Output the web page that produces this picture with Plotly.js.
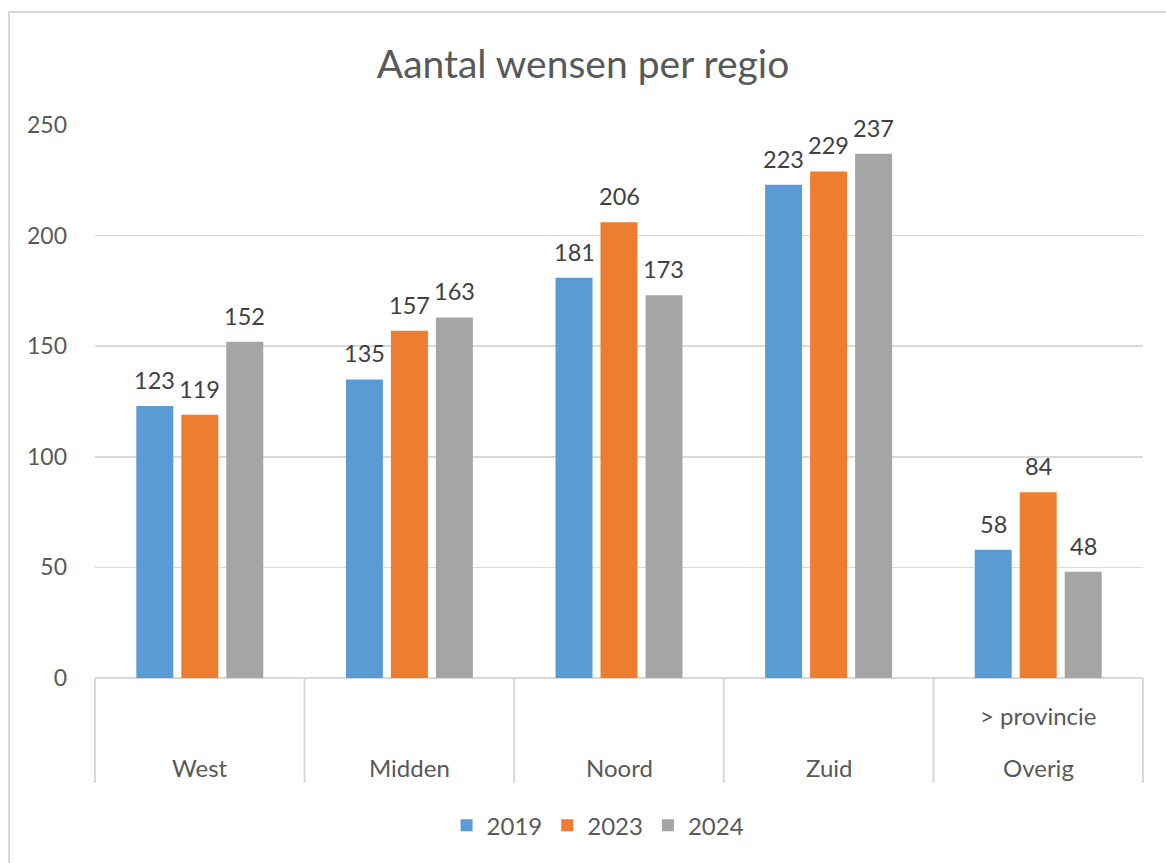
<!DOCTYPE html>
<html><head><meta charset="utf-8">
<script src="https://cdn.plot.ly/plotly-3.0.1.min.js"></script>
<style>
html,body{margin:0;padding:0;background:#fff;}
#frame{position:absolute;left:8px;top:11px;width:1170px;height:870px;border-left:2px solid #d9d9d9;border-top:2px solid #d9d9d9;box-sizing:border-box;pointer-events:none;z-index:5;}
#chart{position:absolute;left:0;top:0;width:1166px;height:863px;}
</style></head>
<body>
<div id="chart"></div>
<div id="frame"></div>
<script>
const categories = ["West","Midden","Noord","Zuid","Overig"];
const subLabels = ["","","","","> provincie"];
const series2019 = [123,135,181,223,58];
const series2023 = [119,157,206,229,84];
const series2024 = [152,163,173,237,48];
const seriesNames = ["2019","2023","2024"];
const colors = ["#5b9bd5","#ed7d31","#a5a5a5"];
const yTicks = [0,50,100,150,200,250];

const font = "Lato, 'Open Sans', sans-serif";
const bargap = 0.356, bargroupgap = 0.178;
const allSeries = [series2019, series2023, series2024];
const traces = allSeries.map((vals,i)=>({
  type:'bar', x:categories, y:vals, name:seriesNames[i],
  marker:{color:colors[i]}
}));

const shapes = [];
for(let i=0;i<=categories.length;i++){
  shapes.push({type:'line',xref:'paper',yref:'paper',x0:i/categories.length,x1:i/categories.length,y0:0,y1:-0.19,line:{color:'#d9d9d9',width:2}});
}
const annotations = [];
categories.forEach((c,i)=>{
  annotations.push({xref:'x',yref:'paper',x:i,y:-0.162,text:c,showarrow:false,yanchor:'middle',font:{family:font,size:24,color:'#595959'}});
  if(subLabels[i]) annotations.push({xref:'x',yref:'paper',x:i,y:-0.068,text:subLabels[i],showarrow:false,yanchor:'middle',font:{family:font,size:24,color:'#595959'}});
});
const slot = (1-bargap)/allSeries.length;
allSeries.forEach((vals,s)=>{
  vals.forEach((v,i)=>{
    annotations.push({xref:'x',yref:'y',x:i+(s-(allSeries.length-1)/2)*slot,y:v,text:String(v),showarrow:false,
      yanchor:'middle',yshift:26,font:{family:font,size:23.5,color:'#404040'}});
  });
});

const layout = {
  width:1166,height:863,
  margin:{l:95,r:23,t:125,b:185},
  paper_bgcolor:'#fff',plot_bgcolor:'#fff',
  title:{text:'Aantal wensen per regio',x:0.5,xanchor:'center',y:0.926,yanchor:'middle',font:{family:font,size:39,color:'#595959'}},
  barmode:'group',bargap:bargap,bargroupgap:bargroupgap,
  xaxis:{showticklabels:false,showgrid:false,zeroline:false,showline:false,ticks:'',fixedrange:true,range:[-0.5,categories.length-0.5]},
  yaxis:{range:[0,250],tickvals:yTicks,showgrid:true,gridcolor:'#d9d9d9',gridwidth:1.5,zeroline:true,zerolinecolor:'#d9d9d9',zerolinewidth:2,
    showline:false,ticks:'',ticklabelstandoff:27,tickfont:{family:font,size:23,color:'#595959'}},
  legend:{orientation:'h',x:0.48,xanchor:'center',y:-0.267,yanchor:'middle',font:{family:font,size:24,color:'#595959'},itemwidth:30,traceorder:'normal'},
  shapes:shapes,annotations:annotations,showlegend:true
};
Plotly.newPlot('chart',traces,layout,{displayModeBar:false,staticPlot:true});
</script>
</body></html>
